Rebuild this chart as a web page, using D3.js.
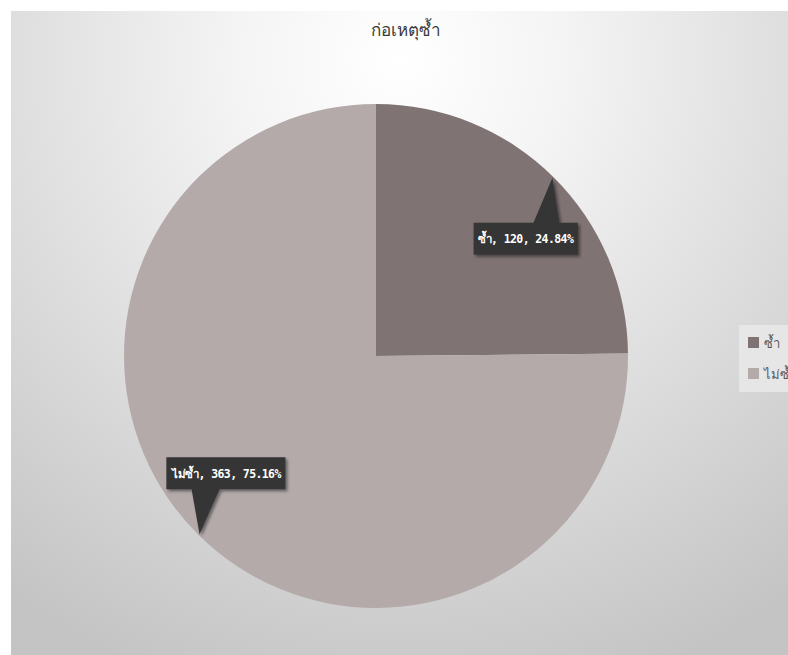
<!DOCTYPE html>
<html><head><meta charset="utf-8">
<script src="https://cdn.jsdelivr.net/npm/d3@7"></script>
<style>html,body{margin:0;padding:0;background:#fff;overflow:hidden}</style>
</head><body>
<svg id="chart" width="788" height="655"></svg>
<script>
const title = "ก่อเหตุซ้ำ";
const categories = ["ซ้ำ", "ไม่ซ้ำ"];
const values = [120, 363];
const colors = ["#7f7373", "#b4aaaa"];

const W = 788, H = 655;
const svg = d3.select("#chart");
const defs = svg.append("defs");

const grad = defs.append("radialGradient").attr("id", "bg")
  .attr("gradientUnits", "userSpaceOnUse")
  .attr("cx", 400).attr("cy", 60).attr("r", 660);
grad.append("stop").attr("offset", "0").attr("stop-color", "#ffffff");
grad.append("stop").attr("offset", "0.25").attr("stop-color", "#f4f4f4");
grad.append("stop").attr("offset", "1").attr("stop-color", "#c4c4c4");

const sh = defs.append("filter").attr("id", "shadow").attr("x", "-20%").attr("y", "-40%").attr("width", "150%").attr("height", "200%");
sh.append("feDropShadow").attr("dx", 2).attr("dy", 2).attr("stdDeviation", 1.5)
  .attr("flood-color", "#000").attr("flood-opacity", 0.45);

// panel
svg.append("rect").attr("x", 11).attr("y", 11).attr("width", W - 11).attr("height", H - 11)
  .attr("fill", "url(#bg)");

// title
svg.append("text").attr("x", 406).attr("y", 36).attr("text-anchor", "middle")
  .attr("font-family", "'Noto Sans', 'DejaVu Sans', sans-serif").attr("font-size", 17)
  .attr("fill", "#3a3a3a").text(title);

// pie
const cx = 376, cy = 356, R = 252;
const total = d3.sum(values);
const pie = d3.pie().sort(null).value(d => d)(values);
const arc = d3.arc().innerRadius(0).outerRadius(R);
const g = svg.append("g").attr("transform", `translate(${cx},${cy})`);
g.selectAll("path.slice").data(pie).join("path").attr("class", "slice")
  .attr("d", arc).attr("fill", (d, i) => colors[i]);

// callout labels
const lblG = g.append("g");
pie.forEach((d, i) => {
  const a = (d.startAngle + d.endAngle) / 2;
  const tx = Math.sin(a) * R * 0.995, ty = -Math.cos(a) * R * 0.995;
  const sx = Math.sign(tx), sy = Math.sign(ty);
  const bx = tx - sx * 27, by = ty - sy * 61;
  const pct = (values[i] / total * 100).toFixed(2) + "%";
  const txt = `${categories[i]}, ${values[i]}, ${pct}`;
  const grp = lblG.append("g");
  const t = grp.append("text").attr("x", bx).attr("y", by + 4.5)
    .attr("text-anchor", "middle")
    .attr("font-family", "'DejaVu Sans Mono', 'Liberation Mono', monospace")
    .attr("font-weight", "bold").attr("font-size", 11.5).attr("letter-spacing", -0.6)
    .attr("fill", "#ffffff").text(txt);
  const bb = t.node().getBBox();
  const pw = 4;
  const x0 = bb.x - pw, x1 = bb.x + bb.width + pw;
  const y0 = by - 16, y1 = by + 16;
  const baseC = tx - sx * 6;
  let path;
  if (sy < 0) {
    path = `M${x0},${y0} L${baseC - 13},${y0} L${tx},${ty} L${baseC + 13},${y0} L${x1},${y0} L${x1},${y1} L${x0},${y1} Z`;
  } else {
    path = `M${x0},${y0} L${x1},${y0} L${x1},${y1} L${baseC + 14},${y1} L${tx},${ty} L${baseC - 14},${y1} L${x0},${y1} Z`;
  }
  grp.insert("path", "text").attr("d", path).attr("fill", "#363636").attr("filter", "url(#shadow)");
});

// legend
const lg = svg.append("g");
lg.append("rect").attr("x", 739).attr("y", 325).attr("width", 60).attr("height", 67)
  .attr("fill", "#e9e9e9").attr("opacity", 0.85);
categories.forEach((c, i) => {
  const y = 337 + i * 31;
  lg.append("rect").attr("x", 748).attr("y", y).attr("width", 11).attr("height", 11).attr("fill", colors[i]);
  lg.append("text").attr("x", 764).attr("y", y + 11)
    .attr("font-family", "'Noto Sans', 'DejaVu Sans', sans-serif").attr("font-size", 13)
    .attr("fill", "#595959").text(c);
});
</script>
</body></html>
